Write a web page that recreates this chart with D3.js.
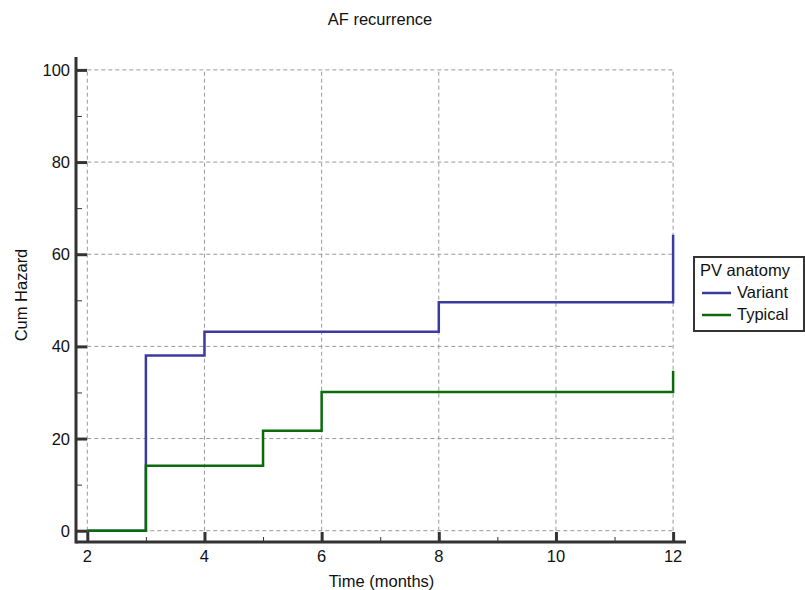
<!DOCTYPE html>
<html><head><meta charset="utf-8">
<script src="https://cdn.jsdelivr.net/npm/d3@7/dist/d3.min.js"></script>
<style>body{margin:0;background:#fff;} text{font-family:"Liberation Sans",Arial,sans-serif;}</style>
</head><body>
<svg id="c" width="805" height="590"></svg>
<script>
const title = "AF recurrence";
const xLabel = "Time (months)";
const yLabel = "Cum Hazard";
const legendTitle = "PV anatomy";
const seriesNames = ["Variant", "Typical"];
const seriesColors = ["#3a3a9f", "#0b6b0b"];
const variantTimes = [2, 3, 4, 8, 12, 12];
const variantValues = [0, 38.0, 43.2, 49.6, 49.6, 64.2];
const typicalTimes = [2, 3, 5, 6, 12, 12];
const typicalValues = [0, 14.1, 21.7, 30.1, 30.1, 34.7];
const xTicks = [2, 4, 6, 8, 10, 12];
const xMinorTicks = [3, 5, 7, 9, 11];
const yTicks = [0, 20, 40, 60, 80, 100];
const yMinorTicks = [10, 30, 50, 70, 90];

const FS = 16.5;
const svg = d3.select("#c");
const x = d3.scaleLinear().domain([1.807, 12.22]).range([76, 686]);
const y = d3.scaleLinear().domain([-2.45, 102.8]).range([542, 57]);
const axisCol = "#333";

// grid
const g = svg.append("g");
g.selectAll(".gx").data(xTicks).enter().append("line")
  .attr("x1", d => x(d)).attr("x2", d => x(d)).attr("y1", y(0)).attr("y2", y(100))
  .attr("stroke", "#999").attr("stroke-dasharray", "4,3").attr("stroke-width", 1);
g.selectAll(".gy").data(yTicks).enter().append("line")
  .attr("x1", x(2)).attr("x2", x(12)).attr("y1", d => y(d)).attr("y2", d => y(d))
  .attr("stroke", "#999").attr("stroke-dasharray", "4,3").attr("stroke-width", 1);

// series
const line = d3.line().x(d => x(d[0])).y(d => y(d[1])).curve(d3.curveStepAfter);
const series = [
  d3.zip(variantTimes, variantValues),
  d3.zip(typicalTimes, typicalValues)
];
series.forEach((s, i) => {
  svg.append("path").datum(s).attr("d", line).attr("fill", "none")
    .attr("stroke", seriesColors[i]).attr("stroke-width", 2.5);
});

// axes
const xAxis = d3.axisTop(x).tickValues(xTicks).tickSize(10).tickFormat("");
const xa = svg.append("g").attr("transform", `translate(0,${542})`).call(xAxis);
xa.select(".domain").remove();
xa.selectAll("line").attr("stroke", axisCol).attr("stroke-width", 3);
const xMin = d3.axisTop(x).tickValues(xMinorTicks).tickSize(5).tickFormat("");
const xm = svg.append("g").attr("transform", `translate(0,${542})`).call(xMin);
xm.select(".domain").remove();
xm.selectAll("line").attr("stroke", axisCol).attr("stroke-width", 1);
svg.append("line").attr("x1", 76).attr("x2", 686).attr("y1", 542).attr("y2", 542)
  .attr("stroke", axisCol).attr("stroke-width", 3);
svg.selectAll(".xl").data(xTicks).enter().append("text")
  .attr("x", d => x(d)).attr("y", 562).attr("text-anchor", "middle")
  .attr("font-size", FS).attr("fill", "#111").text(d => d);

const yAxis = d3.axisRight(y).tickValues(yTicks).tickSize(11).tickFormat("");
const ya = svg.append("g").attr("transform", `translate(${76},0)`).call(yAxis);
ya.select(".domain").remove();
ya.selectAll("line").attr("stroke", axisCol).attr("stroke-width", 3);
const yMin = d3.axisRight(y).tickValues(yMinorTicks).tickSize(6).tickFormat("");
const ym = svg.append("g").attr("transform", `translate(${76},0)`).call(yMin);
ym.select(".domain").remove();
ym.selectAll("line").attr("stroke", axisCol).attr("stroke-width", 1);
svg.append("line").attr("x1", 76).attr("x2", 76).attr("y1", 57).attr("y2", 543.5)
  .attr("stroke", axisCol).attr("stroke-width", 3);
svg.selectAll(".yl").data(yTicks).enter().append("text")
  .attr("x", 70).attr("y", d => y(d) + 6).attr("text-anchor", "end")
  .attr("font-size", FS).attr("fill", "#111").text(d => d);

// labels
svg.append("text").attr("x", 380).attr("y", 25).attr("text-anchor", "middle")
  .attr("font-size", FS).attr("fill", "#111").text(title);
svg.append("text").attr("x", 381.5).attr("y", 587).attr("text-anchor", "middle")
  .attr("font-size", FS).attr("fill", "#111").text(xLabel);
svg.append("text").attr("transform", "translate(27,295) rotate(-90)").attr("text-anchor", "middle")
  .attr("font-size", FS).attr("fill", "#111").text(yLabel);

// legend
const lg = svg.append("g");
lg.append("rect").attr("x", 694).attr("y", 257).attr("width", 110).attr("height", 74)
  .attr("fill", "#fff").attr("stroke", axisCol).attr("stroke-width", 2);
lg.append("text").attr("x", 700).attr("y", 276).attr("font-size", FS).attr("fill", "#111").text(legendTitle);
seriesNames.forEach((n, i) => {
  const yy = 293 + i * 22;
  lg.append("line").attr("x1", 702).attr("x2", 731).attr("y1", yy).attr("y2", yy)
    .attr("stroke", seriesColors[i]).attr("stroke-width", 2.5);
  lg.append("text").attr("x", 737).attr("y", yy + 5).attr("font-size", FS).attr("fill", "#111").text(n);
});
</script>
</body></html>
